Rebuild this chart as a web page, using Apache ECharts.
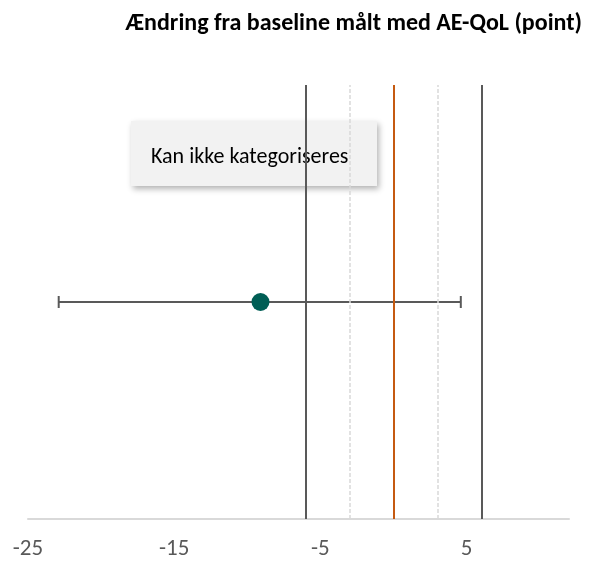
<!DOCTYPE html>
<html>
<head>
<meta charset="utf-8">
<script src="https://cdn.jsdelivr.net/npm/echarts@6/dist/echarts.min.js"></script>
<style>html,body{margin:0;padding:0;background:#fff}#c{width:589px;height:563px}</style>
</head>
<body>
<div id="c"></div>
<script>
var titleText = 'Ændring fra baseline målt med AE-QoL (point)';
var categories = ['Kan ikke kategoriseres'];
var estimate = [-9.1];
var ciLower = [-22.9];
var ciUpper = [4.6];
var tickLabels = [-25, -15, -5, 5];
var darkLines = [-6, 6];
var dottedLines = [-3, 3];
var zeroLine = [0];

var chart = echarts.init(document.getElementById('c'));
var font = 'Calibri, Carlito, "Open Sans", "Liberation Sans", sans-serif';

var markLines = [];
darkLines.forEach(function(v){ markLines.push({xAxis: v, lineStyle:{color:'#595959', width:2, type:'solid'}}); });
dottedLines.forEach(function(v){ markLines.push({xAxis: v, lineStyle:{color:'#d9d9d9', width:1.5, type:[4,2]}}); });
zeroLine.forEach(function(v){ markLines.push({xAxis: v, lineStyle:{color:'#c55a11', width:2, type:'solid'}}); });

chart.setOption({
  animation: false,
  title: {
    text: titleText, right: 2, top: 7,
    textStyle: {fontFamily: font, fontWeight: 'bold', fontSize: 24, color: '#000'}
  },
  grid: {left: 28, right: 20, top: 85, bottom: 44},
  xAxis: {
    type: 'value', min: -25, max: 12, interval: 10,
    axisLine: {show: true, onZero: false, lineStyle: {color: '#d9d9d9', width: 2}},
    axisTick: {show: false},
    splitLine: {show: false},
    axisLabel: {
      show: true, margin: 19, color: '#595959', fontSize: 23, fontFamily: font,
      formatter: function(v){ return tickLabels.indexOf(v) >= 0 ? String(v) : ''; }
    }
  },
  yAxis: {
    type: 'category', data: categories, show: false,
    axisLine: {show: false}, axisTick: {show: false}, axisLabel: {show: false}
  },
  graphic: [{
    type: 'group', left: 131, top: 121,
    children: [{
      type: 'rect', shape: {x: 0, y: 0, width: 246, height: 65},
      style: {fill: '#f2f2f2', shadowBlur: 6, shadowOffsetX: 2, shadowOffsetY: 3, shadowColor: 'rgba(0,0,0,0.3)'}
    }, {
      type: 'text', x: 20, y: 36,
      style: {text: categories[0], fontFamily: font, fontSize: 22, fill: '#000', verticalAlign: 'middle', align: 'left'}
    }]
  }],
  series: [{
    type: 'custom',
    data: categories.map(function(c, i){ return [ciLower[i], ciUpper[i], i]; }),
    renderItem: function(params, api){
      var p1 = api.coord([api.value(0), api.value(2)]);
      var p2 = api.coord([api.value(1), api.value(2)]);
      var h = 6;
      var st = {stroke: '#595959', lineWidth: 2};
      return {type: 'group', children: [
        {type: 'line', shape: {x1: p1[0], y1: p1[1], x2: p2[0], y2: p2[1]}, style: st},
        {type: 'line', shape: {x1: p1[0], y1: p1[1]-h, x2: p1[0], y2: p1[1]+h}, style: st},
        {type: 'line', shape: {x1: p2[0], y1: p2[1]-h, x2: p2[0], y2: p2[1]+h}, style: st}
      ]};
    },
    markLine: {
      silent: true, symbol: 'none', label: {show: false},
      data: markLines
    },
    z: 3
  }, {
    type: 'scatter',
    data: categories.map(function(c, i){ return [estimate[i], i]; }),
    symbol: 'circle', symbolSize: 18,
    itemStyle: {color: '#005e55', opacity: 1},
    z: 5
  }]
});
</script>
</body>
</html>
